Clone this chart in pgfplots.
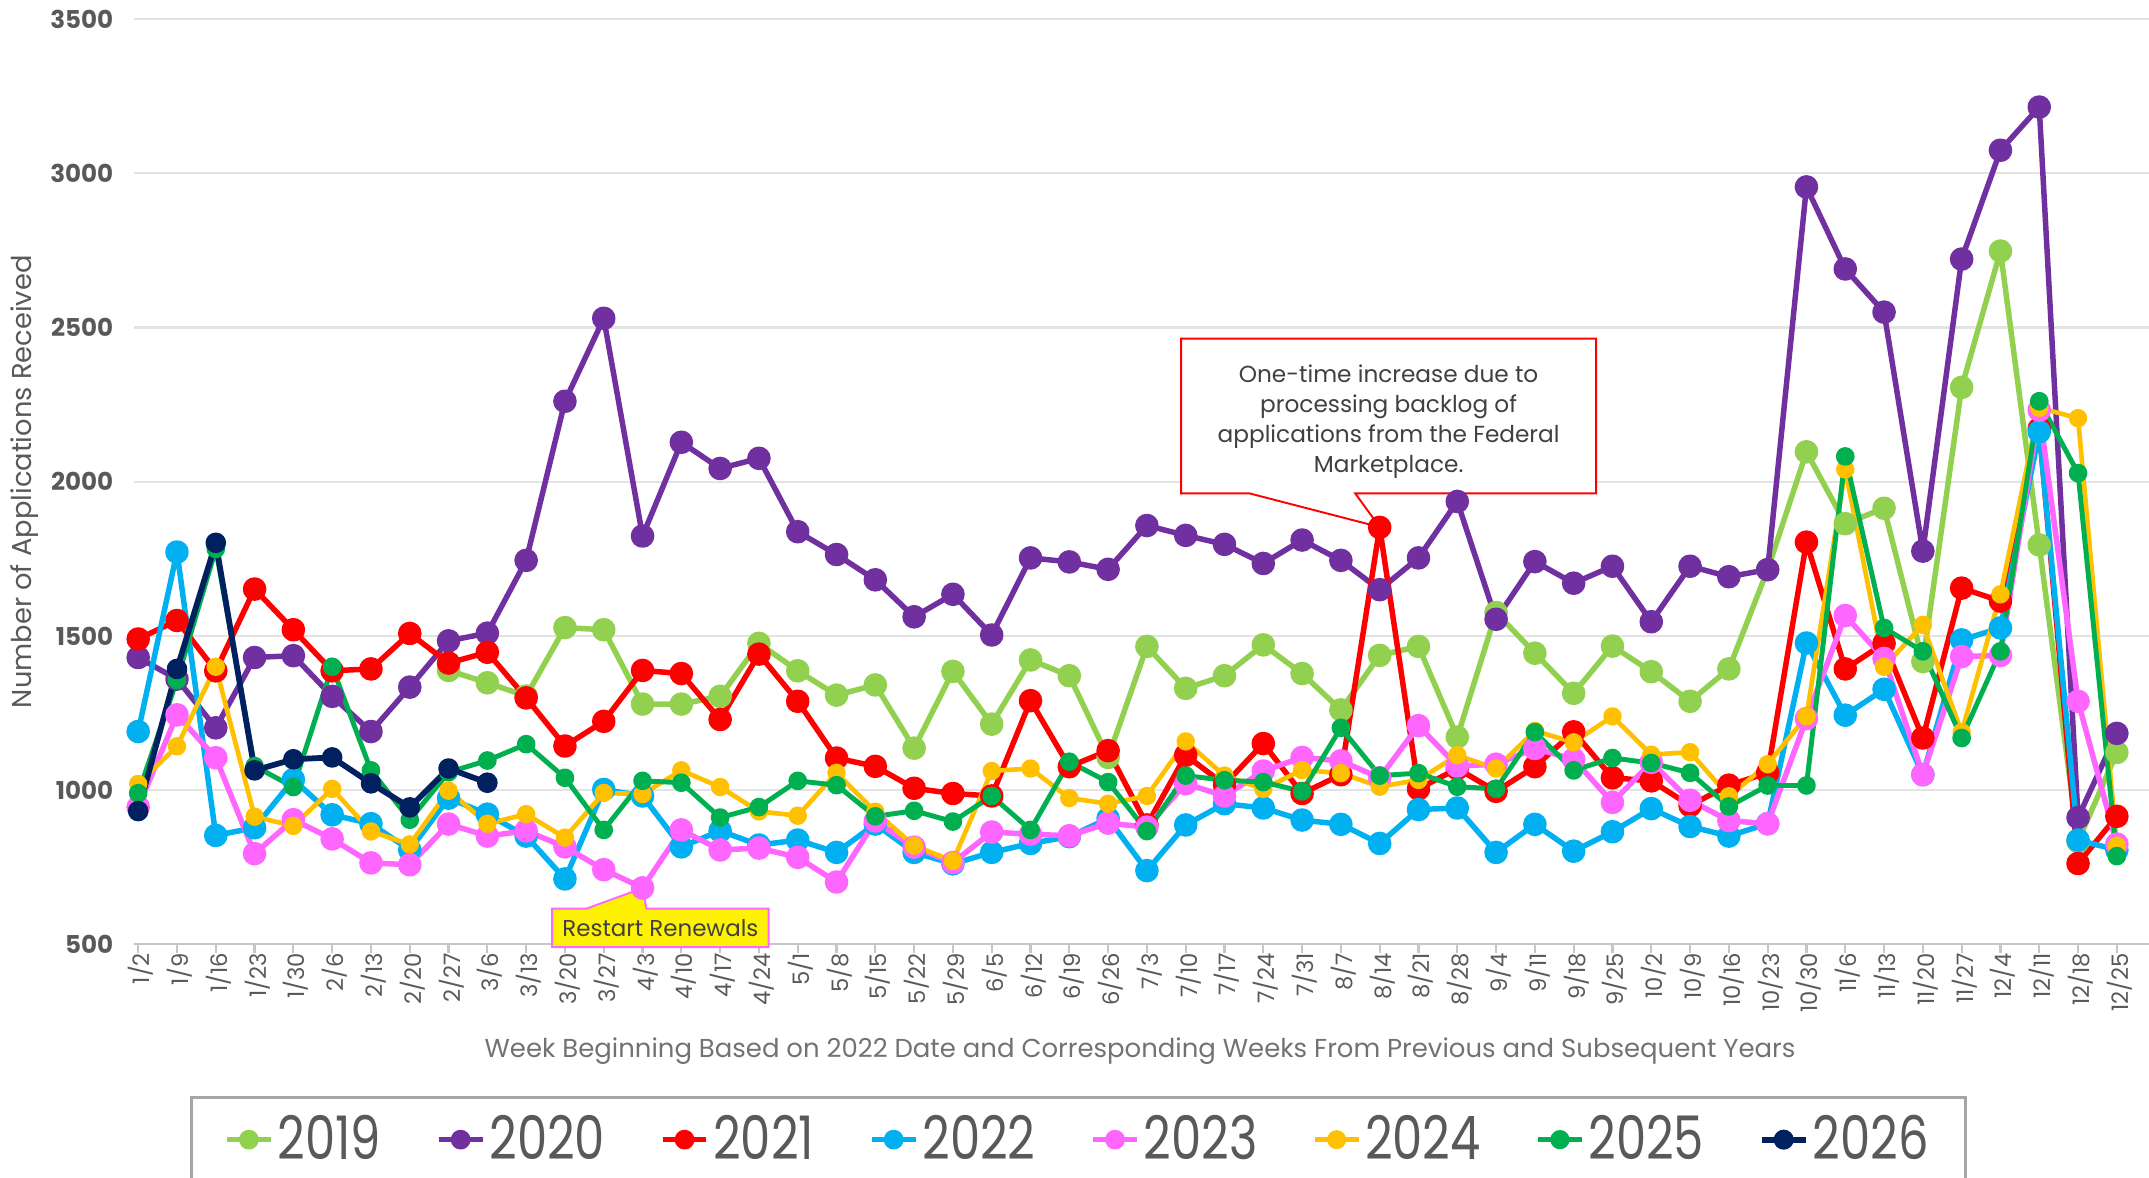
\documentclass[border=0pt]{standalone}
\usepackage{fontspec}
\setmainfont{Poppins}
\newfontfamily\legfont[FakeStretch=0.8]{Poppins}
\usepackage{pgfplots}
\usepackage{pgfplotstable}
\pgfplotsset{compat=1.18}

\definecolor{cA}{HTML}{92D050}
\definecolor{cB}{HTML}{7030A0}
\definecolor{cC}{HTML}{FF0000}
\definecolor{cD}{HTML}{00B0F0}
\definecolor{cE}{HTML}{FF66FF}
\definecolor{cF}{HTML}{FFC000}
\definecolor{cG}{HTML}{00B050}
\definecolor{cH}{HTML}{002060}
\definecolor{txt}{HTML}{595959}
\definecolor{txtd}{HTML}{404040}

\pgfplotstableread{
i a b c d e f g h
0 nan 1430 1490 1190 945 1020 990 932
1 nan 1360 1550 1772 1244 1142 1357 1393
2 nan 1202 1387 853 1105 1400 1782 1802
3 nan 1430 1652 878 794 914 1078 1064
4 nan 1436 1520 1034 904 884 1010 1100
5 nan 1304 1387 920 842 1004 1400 1106
6 nan 1190 1393 891 764 866 1064 1022
7 nan 1334 1508 806 758 824 904 944
8 1388 1484 1412 974 890 998 1058 1070
9 1348 1509 1447 922 851 891 1096 1024
10 1305 1745 1299 851 868 922 1149 nan
11 1527 2261 1143 712 816 846 1040 nan
12 1520 2530 1223 1002 742 991 871 nan
13 1279 1824 1388 981 683 987 1030 nan
14 1279 2128 1378 816 871 1064 1024 nan
15 1304 2043 1229 868 806 1010 911 nan
16 1476 2076 1441 822 812 931 945 nan
17 1387 1838 1288 838 782 917 1030 nan
18 1308 1764 1104 798 702 1056 1016 nan
19 1341 1682 1077 890 900 930 915 nan
20 1136 1562 1006 798 815 820 933 nan
21 1385 1635 989 761 765 770 898 nan
22 1214 1503 981 798 864 1062 981 nan
23 1422 1753 1290 827 857 1070 871 nan
24 1371 1740 1076 849 852 974 1092 nan
25 1106 1716 1128 908 893 956 1026 nan
26 1466 1858 887 739 880 981 867 nan
27 1330 1826 1113 887 1021 1158 1047 nan
28 1371 1797 1018 956 981 1047 1032 nan
29 1471 1735 1151 942 1062 1004 1026 nan
30 1378 1811 989 903 1106 1065 996 nan
31 1260 1745 1050 889 1095 1055 1202 nan
32 1437 1650 1852 827 1040 1011 1047 nan
33 1466 1753 1004 937 1209 1033 1055 nan
34 1172 1936 1070 942 1078 1113 1011 nan
35 1576 1554 996 798 1084 1070 1004 nan
36 1444 1741 1076 889 1135 1192 1188 nan
37 1314 1671 1189 802 1100 1155 1064 nan
38 1467 1726 1040 865 960 1239 1104 nan
39 1384 1546 1030 940 1090 1115 1088 nan
40 1288 1726 950 882 967 1123 1056 nan
41 1393 1692 1016 851 901 980 947 nan
42 1715 1715 1056 891 891 1084 1015 nan
43 2097 2956 1804 1477 1232 1239 1015 nan
44 1864 2690 1393 1243 1566 2040 2082 nan
45 1914 2550 1476 1327 1427 1400 1526 nan
46 1417 1775 1169 1050 1050 1536 1450 nan
47 2306 2722 1655 1487 1433 1188 1169 nan
48 2748 3075 1613 1526 1437 1635 1450 nan
49 1795 3215 2172 2162 2232 2240 2261 nan
50 833 911 762 838 1288 2206 2028 nan
51 1122 1184 915 806 825 820 786 nan
}\data

\begin{document}
\begin{tikzpicture}
\useasboundingbox (0,0) rectangle (784bp,429.5bp);
\begin{axis}[
  at={(49bp,85bp)}, anchor=south west,
  scale only axis, width=736bp, height=337.5bp,
  xmin=-0.1, xmax=51.9, ymin=500, ymax=3500,
  clip=false,
  axis x line*=bottom, axis y line*=left,
  x axis line style={draw=gray!45, line width=0.8bp},
  y axis line style={draw=none},
  ytick={500,1000,...,3500},
  ytick style={draw=none},
  xtick={0,...,51},
  xticklabels={1/2,1/9,1/16,1/23,1/30,2/6,2/13,2/20,2/27,3/6,3/13,3/20,3/27,4/3,4/10,4/17,4/24,5/1,5/8,5/15,5/22,5/29,6/5,6/12,6/19,6/26,7/3,7/10,7/17,7/24,7/31,8/7,8/14,8/21,8/28,9/4,9/11,9/18,9/25,10/2,10/9,10/16,10/23,10/30,11/6,11/13,11/20,11/27,12/4,12/11,12/18,12/25},
  xtick style={draw=gray!45, line width=0.8bp},
  tick align=outside, major tick length=3bp,
  ymajorgrids, grid style={draw=gray!22, line width=0.8bp},
  /pgf/number format/assume math mode=true,
  /pgf/number format/1000 sep={},
  yticklabel style={font=\bfseries\fontsize{9}{10}\selectfont, text=txt, inner sep=0pt, anchor=east, xshift=-4.5bp},
  xticklabel style={font=\fontsize{8.3}{9}\selectfont, text=txt, rotate=90, anchor=east, inner sep=0pt, xshift=0pt, yshift=-1bp},
  xlabel={Week Beginning Based on 2022 Date and Corresponding Weeks From Previous and Subsequent Years},
  xlabel style={font=\fontsize{9.5}{10}\selectfont, text=txt!85, at={(axis description cs:0.4985,-0.1156)}, anchor=center},
  ylabel={Number of Applications Received},
  ylabel style={font=\fontsize{10}{11}\selectfont, text=txt, at={(axis description cs:-0.0545,0.5)}, anchor=center},
  legend columns=8,
  legend style={at={(axis description cs:0.468,-0.1644)}, anchor=north, draw=gray!70, line width=0.9bp, font=\legfont\fontsize{22}{24}\selectfont, text=txt, inner xsep=12bp, inner ysep=5bp, nodes={inner sep=1.5bp}, /tikz/every even column/.append style={column sep=18.5bp}},
  legend image code/.code={\draw[mark repeat=2,mark phase=2,#1,mark size=2.6bp] plot coordinates {(0bp,0bp) (8bp,0bp) (16bp,0bp)};},
  every axis plot/.append style={line join=round},
]
\addplot[cA, line width=2bp, mark=*, mark size=3.3bp] table[x=i,y=a]{\data};
\addlegendentry{2019}
\addplot[cB, line width=2bp, mark=*, mark size=3.3bp] table[x=i,y=b]{\data};
\addlegendentry{2020}
\addplot[cC, line width=2bp, mark=*, mark size=3.3bp] table[x=i,y=c]{\data};
\addlegendentry{2021}
\addplot[cD, line width=2bp, mark=*, mark size=3.3bp] table[x=i,y=d]{\data};
\addlegendentry{2022}
\addplot[cE, line width=2bp, mark=*, mark size=3.3bp] table[x=i,y=e]{\data};
\addlegendentry{2023}
\addplot[cF, line width=1.7bp, mark=*, mark size=2.5bp] table[x=i,y=f]{\data};
\addlegendentry{2024}
\addplot[cG, line width=1.8bp, mark=*, mark size=2.5bp] table[x=i,y=g]{\data};
\addlegendentry{2025}
\addplot[cH, line width=2.1bp, mark=*, mark size=2.7bp] table[x=i,y=h]{\data};
\addlegendentry{2026}

% callout
\draw[cC, line width=0.7bp, fill=white]
  (axis cs:26.88,2464) -- (axis cs:37.58,2464) -- (axis cs:37.58,1962)
  -- (axis cs:31.37,1962) -- (axis cs:32,1853) -- (axis cs:28.65,1962)
  -- (axis cs:26.88,1962) -- cycle;
\node[align=center, font=\fontsize{8.5}{11}\selectfont, text=txtd] at (axis cs:32.23,2195)
  {One-time increase due to\\processing backlog of\\applications from the Federal\\Marketplace.};

% restart renewals
\draw[cE, line width=0.7bp, fill=yellow]
  (axis cs:10.67,615.6) -- (axis cs:11.55,615.6) -- (axis cs:13,682) -- (axis cs:13.1,615.6)
  -- (axis cs:16.25,615.6) -- (axis cs:16.25,491) -- (axis cs:10.67,491) -- cycle;
\node[font=\fontsize{8.4}{10}\selectfont, text=txtd] at (axis cs:13.46,553.3) {Restart Renewals};
\end{axis}
\end{tikzpicture}
\end{document}
